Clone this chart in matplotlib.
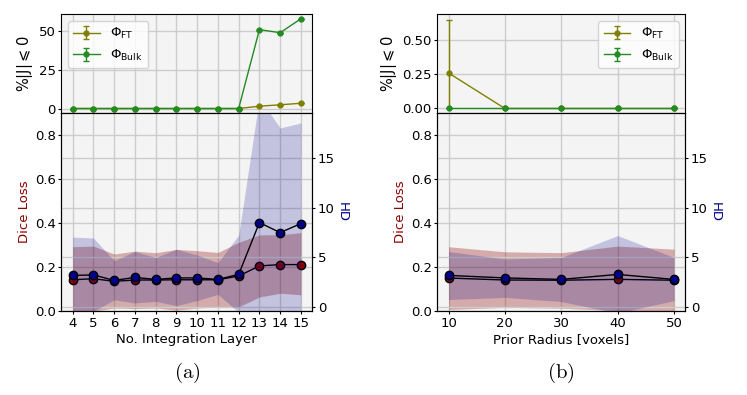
import numpy as np
import matplotlib.pyplot as plt

# (a) number of integration layers
layers = [4, 5, 6, 7, 8, 9, 10, 11, 12, 13, 14, 15]
ft_a = [0, 0, 0, 0, 0, 0, 0, 0, 0, 1.5, 2.4, 3.4]
bulk_a = [0, 0, 0, 0, 0, 0, 0, 0, 0, 51.0, 49.0, 58.0]
dice_a = [0.143, 0.148, 0.136, 0.142, 0.142, 0.143, 0.143, 0.143, 0.160, 0.206, 0.212, 0.212]
dice_a_hi = [0.293, 0.296, 0.260, 0.273, 0.266, 0.281, 0.275, 0.267, 0.313, 0.347, 0.347, 0.357]
dice_a_lo = [0.0, 0.0, 0.015, 0.012, 0.015, 0.005, 0.015, 0.02, 0.02, 0.065, 0.082, 0.075]
hd_a = [3.2, 3.25, 2.7, 3.0, 2.8, 2.95, 2.95, 2.8, 3.3, 8.5, 7.5, 8.4]
hd_a_hi = [7.05, 6.95, 4.68, 5.6, 5.0, 5.83, 5.25, 4.47, 7.25, 21.0, 18.0, 18.5]
hd_a_lo = [-0.5, -0.4, 0.75, 0.44, 0.6, 0.17, 0.68, 1.3, -0.5, -2.0, -3.0, -2.0]

# (b) prior radius
radius = [10, 20, 30, 40, 50]
ft_b = [0.26, 0, 0, 0, 0]
ft_b_err = [[0.26, 0, 0, 0, 0], [0.39, 0, 0, 0, 0]]
bulk_b = [0, 0, 0, 0, 0]
dice_b = [0.151, 0.142, 0.141, 0.145, 0.141]
dice_b_hi = [0.293, 0.270, 0.266, 0.296, 0.282]
dice_b_lo = [0.008, 0.018, 0.014, 0.003, 0.003]
hd_b = [3.2, 2.95, 2.8, 3.3, 2.8]
hd_b_hi = [5.6, 4.85, 5.0, 7.2, 5.0]
hd_b_lo = [0.78, 1.0, 0.58, -0.58, 0.68]

plt.rcParams['font.size'] = 9.5
plt.rcParams['xtick.major.size'] = 2.2
plt.rcParams['ytick.major.size'] = 2.2
plt.rcParams['xtick.major.pad'] = 1.8
plt.rcParams['ytick.major.pad'] = 1.8
plt.rcParams['axes.labelpad'] = 2.5
bg = '#f4f4f4'
W, H = 747, 395


def box(x0, x1, y0, y1):
    return [x0 / W, (H - y1) / H, (x1 - x0) / W, (y1 - y0) / H]


def panel(x0, x1, x, ft, ft_err, bulk, dice, dlo, dhi, hd, hlo, hhi,
          top_ylim, top_ticks, leg_loc, xlabel, tag):
    ax_top = fig.add_axes(box(x0, x1, 14.3, 113))
    ax = fig.add_axes(box(x0, x1, 113, 311.3), sharex=ax_top)
    ax2 = ax.twinx()

    ax_top.set_facecolor(bg)
    ax_top.grid(True, color='0.8', lw=1)
    ax_top.set_axisbelow(True)
    ax_top.errorbar(x, ft, yerr=ft_err, color='olive', marker='o', ms=3.5,
                    lw=1, capsize=2.5, label=r'$\Phi_{\mathrm{FT}}$')
    ax_top.errorbar(x, bulk, yerr=0, color='forestgreen', marker='o', ms=3.5,
                    lw=1, capsize=2.5, label=r'$\Phi_{\mathrm{Bulk}}$')
    ax_top.set_ylim(top_ylim)
    ax_top.set_yticks(top_ticks)
    ax_top.set_ylabel(r'$\%|\mathrm{J}|\leqslant0$', fontsize=10.5)
    ax_top.tick_params(axis='x', labelbottom=False, length=0)
    ax_top.legend(loc=leg_loc, fontsize=9.5)

    ax.set_facecolor(bg)
    ax.grid(True, color='0.8', lw=1)
    ax.set_axisbelow(True)
    ax.fill_between(x, dlo, dhi, color='darkred', alpha=0.3, lw=0)
    ax.plot(x, dice, color='black', lw=1, marker='o', ms=6,
            mfc='darkred', mec='black')
    ax.set_ylim(0, 0.9)
    ax.set_yticks([0.0, 0.2, 0.4, 0.6, 0.8])
    ax.set_ylabel('Dice Loss', color='darkred')
    ax.set_xlabel(xlabel)
    ax.set_xticks(x)

    ax2.grid(True, color='0.8', lw=1)
    ax2.set_axisbelow(True)
    ax2.fill_between(x, hlo, hhi, color='darkblue', alpha=0.2, lw=0)
    ax2.plot(x, hd, color='black', lw=1, marker='o', ms=6,
             mfc='darkblue', mec='black')
    ax2.set_ylim(-0.4, 19.5)
    ax2.set_yticks([0, 5, 10, 15])
    ax2.set_ylabel('HD', color='darkblue', rotation=270, labelpad=10)

    fig.text((x0 + x1) / 2 / W, 1 - 373 / H, r'$\mathrm{' + tag + '}$',
             ha='center', va='center', fontsize=15, math_fontfamily='cm')


fig = plt.figure(figsize=(7.47, 3.95), dpi=100)
panel(61.3, 312.3, layers, ft_a, 0, bulk_a, dice_a, dice_a_lo, dice_a_hi,
      hd_a, hd_a_lo, hd_a_hi, (-2.9, 60.9), [0, 25, 50], 'upper left',
      'No. Integration Layer', '(a)')
panel(437.3, 685.3, radius, ft_b, ft_b_err, bulk_b, dice_b, dice_b_lo, dice_b_hi,
      hd_b, hd_b_lo, hd_b_hi, (-0.033, 0.69), [0.0, 0.25, 0.5], 'upper right',
      'Prior Radius [voxels]', '(b)')

fig.savefig('out.png', dpi=100)
